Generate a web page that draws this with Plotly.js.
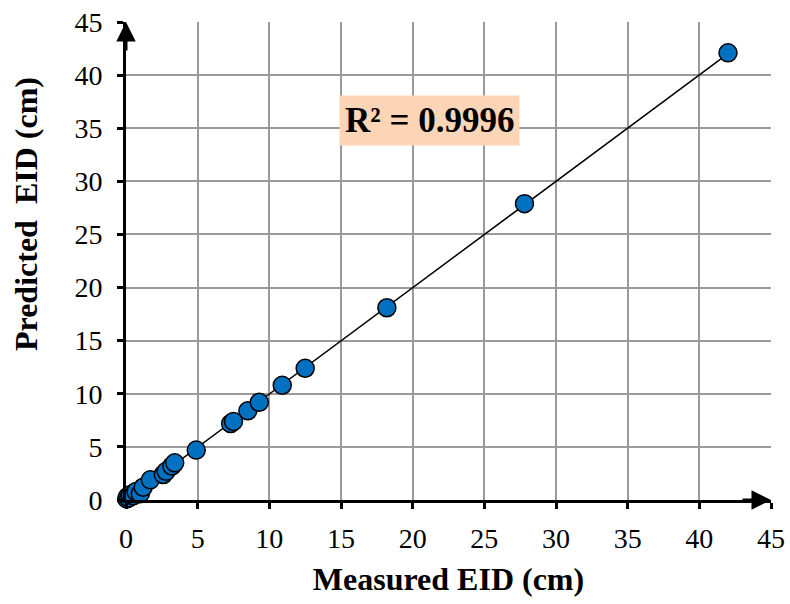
<!DOCTYPE html>
<html>
<head>
<meta charset="utf-8">
<script src="https://cdn.plot.ly/plotly-3.0.1.min.js"></script>
<style>html,body{margin:0;padding:0;background:#fff;}#chart{width:790px;height:604px;}</style>
</head>
<body>
<div id="chart"></div>
<script>
const measured = [0.05, 0.1, 0.2, 0.3, 0.5, 0.7, 1.0, 1.2, 1.7, 2.6, 2.8, 3.2, 3.4, 4.9, 7.3, 7.5, 8.5, 9.3, 10.9, 12.5, 18.2, 27.8, 42.0];
const predicted = [0.1, 0.3, 0.2, 0.5, 0.4, 0.8, 0.6, 1.2, 1.9, 2.4, 2.7, 3.2, 3.5, 4.7, 7.2, 7.4, 8.4, 9.2, 10.8, 12.4, 18.1, 27.9, 42.1];
const tickVals = [0, 5, 10, 15, 20, 25, 30, 35, 40, 45];
const r2Label = "R² = 0.9996";
const xTitle = "Measured EID (cm)";
const yTitle = "Predicted  EID (cm)";

// least-squares trend line
const n = measured.length;
const mx = measured.reduce((a, b) => a + b, 0) / n;
const my = predicted.reduce((a, b) => a + b, 0) / n;
let sxy = 0, sxx = 0;
for (let i = 0; i < n; i++) { sxy += (measured[i] - mx) * (predicted[i] - my); sxx += (measured[i] - mx) ** 2; }
const slope = sxy / sxx, icpt = my - slope * mx;
const xmin = Math.min(...measured), xmax = Math.max(...measured);
const trendX = [xmin, xmax];
const trendY = trendX.map(v => slope * v + icpt);

const FAM = "Liberation Serif";

const traces = [
  { x: trendX, y: trendY, mode: 'lines', line: { color: '#000', width: 1.5 }, hoverinfo: 'skip' },
  { x: measured, y: predicted, mode: 'markers', cliponaxis: false,
    marker: { color: '#0070C0', size: 18, line: { color: '#000', width: 1.5 } } }
];

function axisCommon() {
  return {
    range: [0, 45], tickmode: 'array', tickvals: tickVals.slice(), showgrid: true, gridcolor: '#9a9a9a', gridwidth: 2,
    zeroline: false, showline: true, linecolor: '#000', linewidth: 3,
    ticks: 'outside', ticklen: 6, tickwidth: 3, tickcolor: '#000',
    tickfont: { family: FAM, size: 28, color: '#000' }
  };
}

const M = { l: 126, r: 19, t: 22, b: 104 };
const layout = {
  width: 790, height: 604,
  font: { family: FAM, size: 28, color: '#000' },
  margin: M,
  paper_bgcolor: '#fff', plot_bgcolor: '#fff', showlegend: false,
  xaxis: Object.assign(axisCommon(), {
    ticklabelstandoff: 5,
    title: { text: '<b>' + xTitle + '</b>', font: { family: FAM, size: 32, color: '#000' }, standoff: 16 }
  }),
  yaxis: Object.assign(axisCommon(), { ticklabelstandoff: 9 }),
  annotations: [
    { x: 45, y: 0, xref: 'x', yref: 'y', ax: -30, ay: 0, showarrow: true, arrowhead: 2, arrowsize: 1.3, arrowwidth: 3, arrowcolor: '#000', text: '' },
    { x: 0, y: 45, xref: 'x', yref: 'y', ax: 0, ay: 30, showarrow: true, arrowhead: 2, arrowsize: 1.3, arrowwidth: 3, arrowcolor: '#000', text: '' },
    { x: 21.2, y: 35.7, xref: 'x', yref: 'y', showarrow: false, text: '<b>' + r2Label + '</b>',
      font: { family: FAM, size: 35, color: '#000' }, bgcolor: '#FBD5B5', borderpad: 5 },
    { x: (26 - M.l) / (790 - M.l - M.r), y: (604 - M.b - 214) / (604 - M.t - M.b),
      xref: 'paper', yref: 'paper', xanchor: 'center', yanchor: 'middle', showarrow: false,
      text: '<b>' + yTitle + '</b>', textangle: -90, font: { family: FAM, size: 32, color: '#000' } }
  ]
};

Plotly.newPlot('chart', traces, layout, { displayModeBar: false, staticPlot: true });
</script>
</body>
</html>
